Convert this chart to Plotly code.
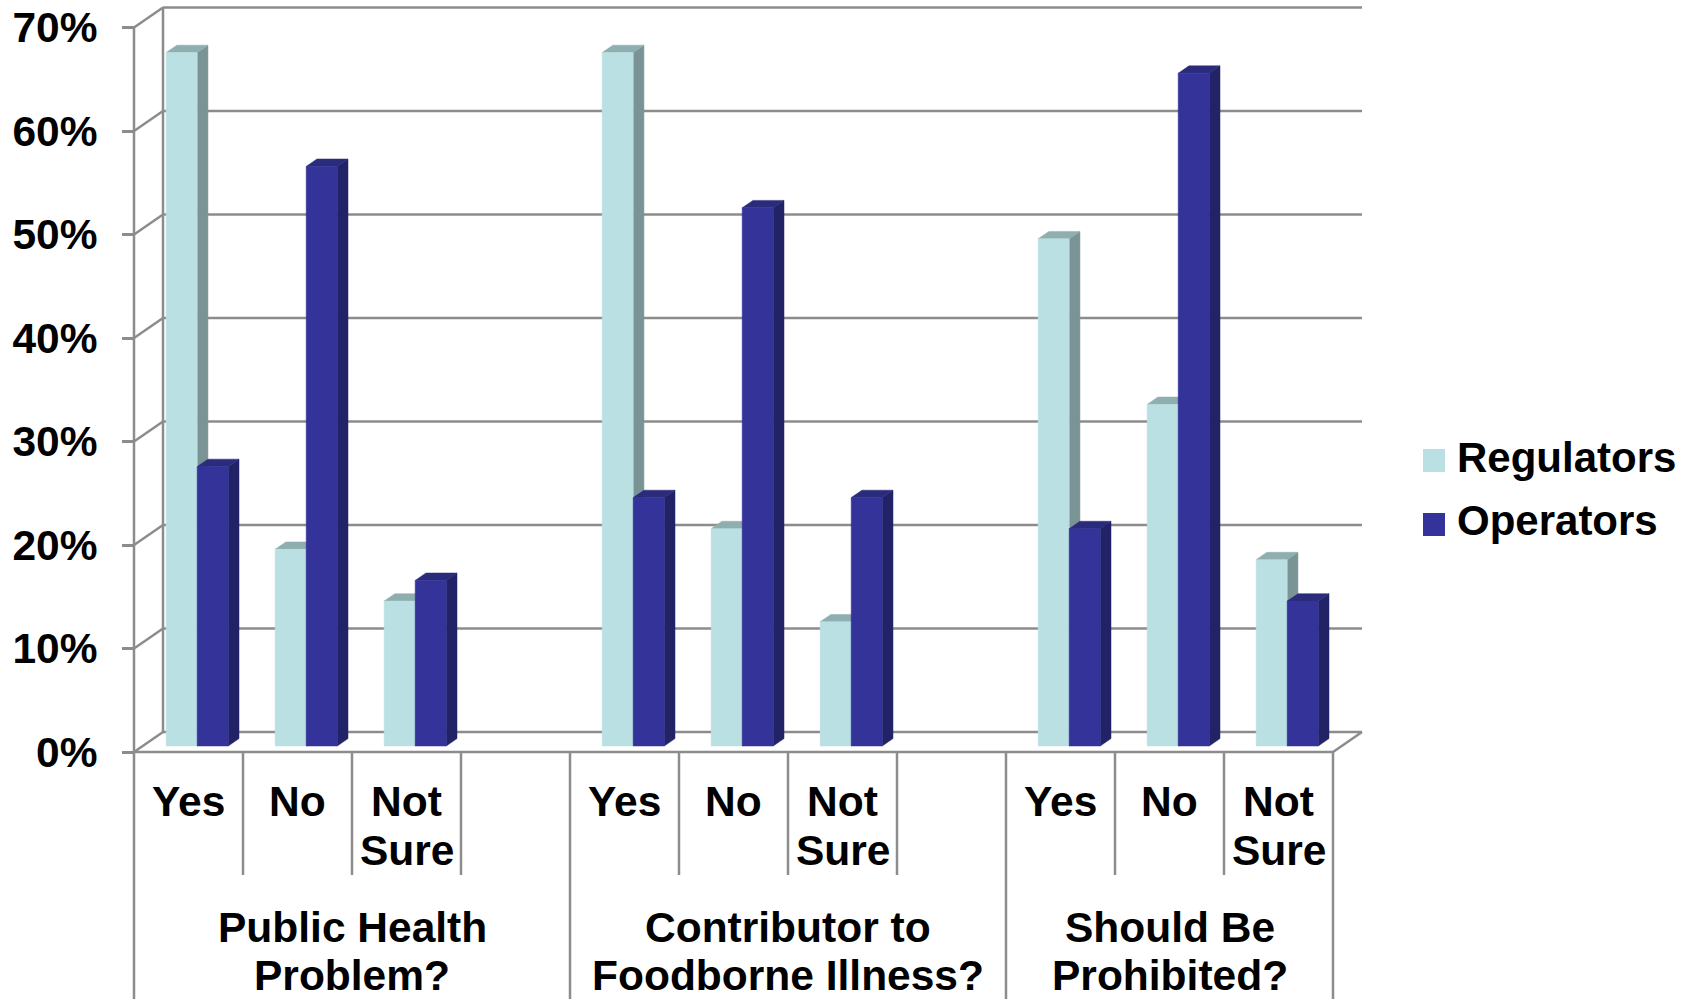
import plotly.graph_objects as go

# ---------------- data ----------------
groups = ["Public Health\nProblem?", "Contributor to\nFoodborne Illness?", "Should Be\nProhibited?"]
answers = ["Yes", "No", "Not\nSure"]
series_names = ["Regulators", "Operators"]
regulators = [67, 19, 14, 67, 21, 12, 49, 33, 18]
operators = [27, 56, 16, 24, 52, 24, 21, 65, 14]
y_ticks = [0, 10, 20, 30, 40, 50, 60, 70]
y_tick_labels = ["0%", "10%", "20%", "30%", "40%", "50%", "60%", "70%"]

# ---------------- layout / geometry ----------------
W, H = 1696, 999
X0, SLOT = 134, 109.0        # pixel of front x=0, pixels per category slot
Y0, PCT = 752, 10.35         # pixel of front 0%, pixels per percent
slots_per_group = [4, 4, 3]
DX, DY = 29 / SLOT, 20 / PCT  # full depth vector in data units
D0, D1 = 0.30, 0.67           # bar depth start / end (fraction of depth)
BAR_W = 0.285                 # bar width in slot units
GRID = "#8c8c8c"
FONT = "Liberation Sans, Arial, sans-serif"
FS = 42.5
LFS = 42

xrange_ = [-X0 / SLOT, (W - X0) / SLOT]
yrange_ = [-(H - Y0) / PCT, Y0 / PCT]
ymin = yrange_[0]
n_slots = sum(slots_per_group)

def py2paper(py):
    return 1 - py / H

def py2data(py):
    return (Y0 - py) / PCT

styles = {
    "Regulators": dict(face="#BBE0E3", side="#7A9496", top="#8EAEB0"),
    "Operators": dict(face="#333399", side="#222266", top="#2B2B7C"),
}

fig = go.Figure()

# ---------------- frame: back wall, side wall, floor, dividers ----------------
xs, ys = [], []
for t in y_ticks:                       # back-wall gridlines
    xs += [DX, n_slots + DX, None]
    ys += [t + DY, t + DY, None]
for t in y_ticks:                       # side-wall diagonals
    xs += [0, DX, None]
    ys += [t, t + DY, None]
xs += [DX, DX, None]                    # back-left vertical edge
ys += [DY, y_ticks[-1] + DY, None]
xs += [0, n_slots, n_slots + DX, None]  # front floor + right floor edge
ys += [0, 0, DY, None]
xs += [0, 0, None]                      # front axis line / first divider
ys += [y_ticks[-1], ymin, None]
short_end = py2data(875)
pos = 0
for g, n in enumerate(slots_per_group):
    for c in range(1, n):
        xs += [pos + c, pos + c, None]
        ys += [0, short_end, None]
    pos += n
    xs += [pos, pos, None]
    ys += [0, ymin, None]

fig.add_trace(go.Scatter(x=xs, y=ys, mode="lines", line=dict(color=GRID, width=2.5),
                         hoverinfo="skip", showlegend=False))

# ---------------- 3D bars ----------------
def poly(pts):
    return [p[0] for p in pts] + [pts[0][0]], [p[1] for p in pts] + [pts[0][1]]

slot_centers = []
pos = 0
for g, n in enumerate(slots_per_group):
    for c in range(len(answers)):
        slot_centers.append(pos + c + 0.5)
    pos += n

for i, xc in enumerate(slot_centers):
    g, c = divmod(i, len(answers))
    for s, (name, vals) in enumerate(zip(series_names, [regulators, operators])):
        v = vals[i]
        st = styles[name]
        L = xc - BAR_W + s * BAR_W
        R = L + BAR_W
        sx, sy = poly([(R + D0 * DX, D0 * DY), (R + D1 * DX, D1 * DY),
                       (R + D1 * DX, v + D1 * DY), (R + D0 * DX, v + D0 * DY)])
        fig.add_trace(go.Scatter(x=sx, y=sy, fill="toself", fillcolor=st["side"], mode="lines",
                                 line=dict(color=st["side"], width=0.5), hoverinfo="skip",
                                 showlegend=False))
        tx, ty = poly([(L + D0 * DX, v + D0 * DY), (R + D0 * DX, v + D0 * DY),
                       (R + D1 * DX, v + D1 * DY), (L + D1 * DX, v + D1 * DY)])
        fig.add_trace(go.Scatter(x=tx, y=ty, fill="toself", fillcolor=st["top"], mode="lines",
                                 line=dict(color=st["top"], width=0.5), hoverinfo="skip",
                                 showlegend=False))
        fx, fy = poly([(L + D0 * DX, D0 * DY), (R + D0 * DX, D0 * DY),
                       (R + D0 * DX, v + D0 * DY), (L + D0 * DX, v + D0 * DY)])
        label = groups[g].replace("\n", " ") + " – " + answers[c].replace("\n", " ")
        fig.add_trace(go.Scatter(x=fx, y=fy, fill="toself", fillcolor=st["face"], mode="lines",
                                 line=dict(color=st["face"], width=0.5), name=name,
                                 hoveron="fills", text=f"{name}<br>{label}: {v}%",
                                 hoverinfo="text", showlegend=False))

# ---------------- category labels ----------------
annotations = []
ans_base = [816, 865]
for i, xc in enumerate(slot_centers):
    c = i % len(answers)
    for k, line in enumerate(answers[c].split("\n")):
        annotations.append(dict(x=xc, xref="x", y=py2paper(ans_base[k] - 0.3465 * FS), yref="paper",
                                text=line, showarrow=False, xanchor="center", yanchor="middle",
                                font=dict(family=FONT, size=FS, color="black", weight="bold")))
grp_base = [942, 990]
pos = 0
for g, n in enumerate(slots_per_group):
    gc = pos + n / 2
    pos += n
    for k, line in enumerate(groups[g].split("\n")):
        annotations.append(dict(x=gc, xref="x", y=py2paper(grp_base[k] - 0.3465 * FS), yref="paper",
                                text=line, showarrow=False, xanchor="center", yanchor="middle",
                                font=dict(family=FONT, size=FS, color="black", weight="bold")))

# ---------------- legend (manual, large squares) ----------------
shapes = []
leg_sq = [(449, 472), (513, 536)]
leg_base = [472, 535]
for s, name in enumerate(series_names):
    t, b = leg_sq[s]
    shapes.append(dict(type="rect", xref="paper", yref="paper", x0=1423 / W, x1=1445 / W,
                       y0=py2paper(b), y1=py2paper(t), fillcolor=styles[name]["face"],
                       line=dict(width=0)))
    annotations.append(dict(x=1455 / W, xref="paper", y=py2paper(leg_base[s] - 0.3465 * LFS), yref="paper",
                            text=name, showarrow=False, xanchor="left", yanchor="middle",
                            font=dict(family=FONT, size=LFS, color="black", weight="bold")))

fig.update_layout(
    width=W, height=H, margin=dict(l=0, r=0, t=0, b=0),
    template="none", paper_bgcolor="white", plot_bgcolor="white",
    showlegend=False, annotations=annotations, shapes=shapes,
    xaxis=dict(range=xrange_, domain=[0, 1], visible=False, fixedrange=True),
    yaxis=dict(range=yrange_, domain=[0, 1], anchor="free", position=X0 / W,
               tickvals=y_ticks, ticktext=y_tick_labels, ticks="outside", ticklen=12,
               tickwidth=2.5, tickcolor=GRID, showgrid=False, zeroline=False, showline=False,
               automargin=False, ticklabelstandoff=16, fixedrange=True,
               tickfont=dict(family=FONT, size=FS, color="black", weight="bold")),
    hoverlabel=dict(font=dict(family=FONT, size=16)),
)

fig.write_html("out.html")
